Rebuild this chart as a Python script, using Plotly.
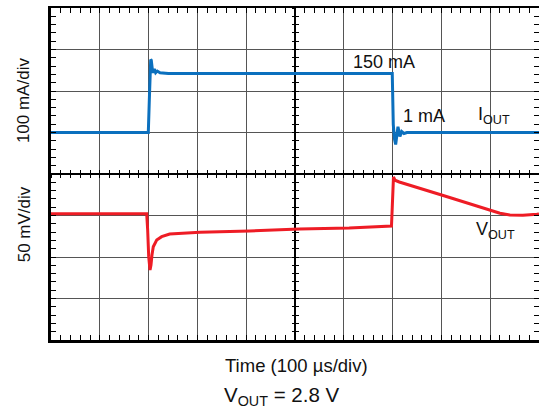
import plotly.graph_objects as go

# ---- data ----
time_iout_us = [0, 199.4, 201.5, 204.3, 205.5, 208.4, 211.7, 214.5, 217.8, 223.4, 240.4,
                699.3, 701.4, 703.9, 706.3, 711.0, 715.0, 718.6, 723.3, 729.4, 1000]
iout_ma = [1, 1, 80, 177, 175, 145, 154, 145, 149, 145, 143,
           143, 20, -15, -28, 15, -8.6, 3.4, -1.4, 1, 1]

time_vout_us = [0, 196.1, 198.1, 200.2, 202.9, 204.9, 206.9, 209.6, 216.6, 226.8, 243.2,
                271.1, 305.3, 407, 509, 611, 697.7, 699.3, 700.8, 701.8, 704.9, 709,
                713.7, 807, 899.5, 920, 940.5, 967, 995.6, 1000]
vout_mv = [2, 2, -17.5, -49.6, -65.7, -59.6, -47.6, -37.6, -29.5, -25.5, -22.3,
           -21.4, -20.2, -18.7, -16.3, -15.1, -12.7, 10, 40, 46.4, 42.5, 41.5,
           40.4, 23.5, 6.6, 2.7, 0.6, 0.2, 1.4, 1.8]

x_range = [0, 1000]        # 100 us/div, 10 div
i_range = [-499, 301]      # 100 mA/div, 8 div
v_range = [-150, 250]      # 50 mV/div, 8 div

FONT = "Liberation Sans, Arial, sans-serif"
BLUE = "#0B70BE"
RED = "#EE1C25"
GRID = "#555555"

fig = go.Figure()
fig.add_trace(go.Scatter(x=time_iout_us, y=iout_ma, mode="lines",
                         line=dict(color=BLUE, width=3), xaxis="x", yaxis="y",
                         showlegend=False, hoverinfo="skip"))
fig.add_trace(go.Scatter(x=time_vout_us, y=vout_mv, mode="lines",
                         line=dict(color=RED, width=3), xaxis="x", yaxis="y2",
                         showlegend=False, hoverinfo="skip"))

tick_common = dict(showticklabels=False, zeroline=False, tickcolor="black",
                   tickwidth=1.3, linecolor="black", fixedrange=True)

fig.update_layout(
    width=539, height=412,
    margin=dict(l=51, r=0, t=8, b=72, autoexpand=False),
    paper_bgcolor="white", plot_bgcolor="white",
    font=dict(family=FONT, size=17, color="#111111"),
    xaxis=dict(range=x_range, tick0=0, dtick=100, showgrid=True, gridcolor=GRID,
               gridwidth=1.4, showline=True, linewidth=3, ticks="inside", ticklen=5,
               minor=dict(dtick=20, tick0=0, ticks="inside", ticklen=5,
                          tickcolor="black", tickwidth=1.3, showgrid=False),
               **tick_common),
    xaxis2=dict(range=x_range, overlaying="x", side="top", anchor="y", showgrid=False,
                showline=True, linewidth=1.5, ticks="inside", ticklen=5, tick0=0, dtick=100,
                minor=dict(dtick=20, tick0=0, ticks="inside", ticklen=5,
                           tickcolor="black", tickwidth=1.3),
                **tick_common),
    xaxis3=dict(range=x_range, overlaying="x", anchor="free", position=0.5, showgrid=False,
                showline=True, linewidth=1.5, ticks="inside", ticklen=3, tick0=0, dtick=100,
                minor=dict(dtick=20, tick0=0, ticks="inside", ticklen=3,
                           tickcolor="black", tickwidth=1.3),
                layer="below traces", **tick_common),
    xaxis4=dict(range=x_range, overlaying="x", anchor="free", position=0.5, showgrid=False,
                showline=False, ticks="outside", ticklen=3, tick0=0, dtick=100,
                minor=dict(dtick=20, tick0=0, ticks="outside", ticklen=3,
                           tickcolor="black", tickwidth=1.3),
                layer="below traces", **tick_common),
    yaxis=dict(range=i_range, tick0=1, dtick=100, showgrid=True, gridcolor=GRID,
               gridwidth=1.4, showline=True, linewidth=3, ticks="inside", ticklen=5,
               minor=dict(dtick=20, tick0=1, ticks="inside", ticklen=5,
                          tickcolor="black", tickwidth=1.3, showgrid=False),
               **tick_common),
    yaxis2=dict(range=v_range, overlaying="y", side="right", anchor="x", showgrid=False,
                showline=True, linewidth=1.5, ticks="inside", ticklen=5, tick0=0, dtick=50,
                minor=dict(dtick=10, tick0=0, ticks="inside", ticklen=5,
                           tickcolor="black", tickwidth=1.3),
                **tick_common),
    yaxis3=dict(range=i_range, overlaying="y", anchor="free", position=0.5, showgrid=False,
                showline=True, linewidth=1.5, ticks="inside", ticklen=3, tick0=1, dtick=100,
                minor=dict(dtick=20, tick0=1, ticks="inside", ticklen=3,
                           tickcolor="black", tickwidth=1.3),
                layer="below traces", **tick_common),
    yaxis4=dict(range=i_range, overlaying="y", anchor="free", position=0.5, showgrid=False,
                showline=False, ticks="outside", ticklen=3, tick0=1, dtick=100,
                minor=dict(dtick=20, tick0=1, ticks="outside", ticklen=3,
                           tickcolor="black", tickwidth=1.3),
                layer="below traces", **tick_common),
)

# dummy invisible traces so overlay axes get drawn
for xa, ya in [("x2", "y"), ("x3", "y3"), ("x4", "y4")]:
    fig.add_trace(go.Scatter(x=[None], y=[None], xaxis=xa, yaxis=ya,
                             showlegend=False, hoverinfo="skip"))

annots = [
    dict(text="150 mA", x=682, y=171, xref="x", yref="y", xanchor="center", yanchor="middle",
         font=dict(size=18)),
    dict(text="1 mA", x=764, y=41, xref="x", yref="y", xanchor="center", yanchor="middle",
         font=dict(size=18)),
    dict(text="I<sub>OUT</sub>", x=871, y=41, xref="x", yref="y", xanchor="left", yanchor="middle",
         font=dict(size=18)),
    dict(text="V<sub>OUT</sub>", x=866, y=-17.5, xref="x", yref="y2", xanchor="left", yanchor="middle",
         font=dict(size=18)),
    dict(text="100 mA/div", x=-0.055, y=0.723, xref="paper", yref="paper",
         textangle=-90, xanchor="center", yanchor="middle"),
    dict(text="50 mV/div", x=-0.055, y=0.349, xref="paper", yref="paper",
         textangle=-90, xanchor="center", yanchor="middle"),
    dict(text="Time (100 µs/div)", x=0.504, y=-0.078, xref="paper", yref="paper",
         xanchor="center", yanchor="middle", font=dict(size=18.5)),
    dict(text="V<sub>OUT</sub> = 2.8 V", x=0.473, y=-0.168, xref="paper", yref="paper",
         xanchor="center", yanchor="middle", font=dict(size=20.5)),
]
for a in annots:
    a.setdefault("showarrow", False)
    a.setdefault("font", dict(size=17))
    a["font"] = dict(family=FONT, color="#111111", **a["font"])
    fig.add_annotation(**a)

fig.write_html(
    "out.html",
    config={"displayModeBar": False},
    post_script="document.body.style.margin='0';document.body.style.overflow='hidden';",
)
